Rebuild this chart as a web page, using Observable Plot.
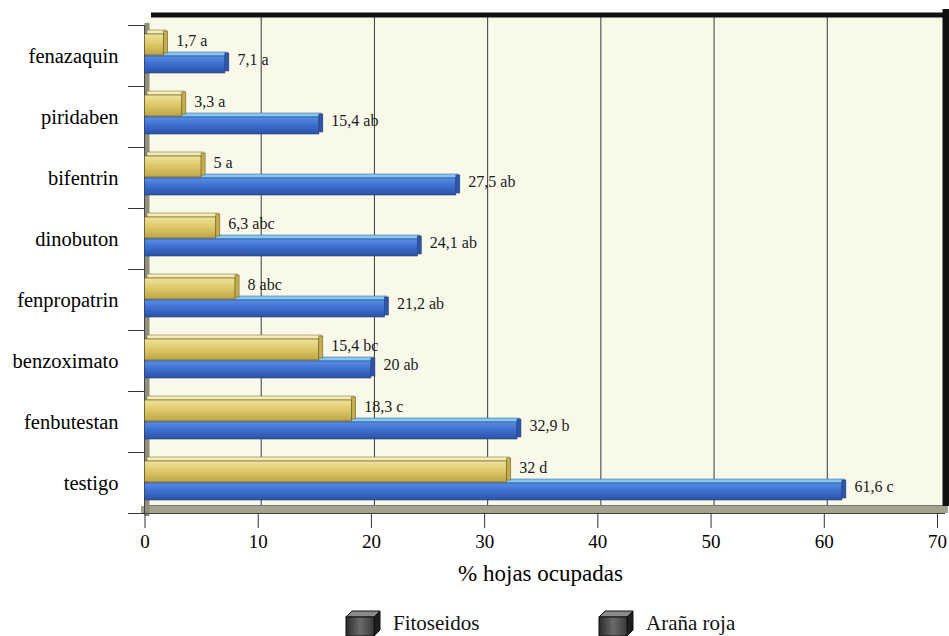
<!DOCTYPE html>
<html>
<head>
<meta charset="utf-8">
<script src="https://cdn.jsdelivr.net/npm/d3@7"></script>
<script src="https://cdn.jsdelivr.net/npm/@observablehq/plot@0.6"></script>
<style>
  html, body { margin: 0; padding: 0; background: #ffffff; }
  body { width: 949px; height: 636px; overflow: hidden; font-family: "Liberation Serif", "Times New Roman", serif; }
  #legend { position: relative; width: 949px; height: 36px; }
  .item { position: absolute; top: 10px; display: flex; align-items: center; font-size: 21px; color: #111; }
  .item svg { margin-right: 12px; }
</style>
</head>
<body>
<div id="chart"></div>
<div id="legend"></div>
<script>
const categories = ["fenazaquin", "piridaben", "bifentrin", "dinobuton", "fenpropatrin", "benzoximato", "fenbutestan", "testigo"];
const fitoseidos = [1.7, 3.3, 5, 6.3, 8, 15.4, 18.3, 32];
const aranaRoja = [7.1, 15.4, 27.5, 24.1, 21.2, 20, 32.9, 61.6];
const fitoLetters = ["a", "a", "a", "abc", "abc", "bc", "c", "d"];
const aranaLetters = ["a", "ab", "ab", "ab", "ab", "ab", "b", "c"];
const xTicks = [0, 10, 20, 30, 40, 50, 60, 70];
const gridTicks = [10, 20, 30, 40, 50, 60];
const seriesNames = ["Fitoseidos", "Araña roja"];

const fmt = v => String(v).replace(".", ",");
const fito = categories.map((c, i) => ({cat: c, v: fitoseidos[i], label: fmt(fitoseidos[i]) + " " + fitoLetters[i]}));
const arana = categories.map((c, i) => ({cat: c, v: aranaRoja[i], label: fmt(aranaRoja[i]) + " " + aranaLetters[i]}));

const serif = '"Liberation Serif", "Times New Roman", serif';

const chart = Plot.plot({
  width: 949,
  height: 600,
  marginLeft: 144,
  marginRight: 5,
  marginTop: 17,
  marginBottom: 87,
  style: {fontFamily: serif, background: "transparent", color: "#111"},
  x: {domain: [0, 70], range: [144.5, 937]},
  y: {domain: categories, range: [24.5, 512.5], padding: 0},
  marks: [
    Plot.frame({fill: "#f9f9ea", stroke: null}),
    // back grid
    Plot.ruleX(gridTicks, {dx: 3, stroke: "#3a3a3a", strokeWidth: 1, insetBottom: 8}),
    // floor & wall
    Plot.frame({anchor: "bottom", stroke: "#a3a38e", strokeWidth: 7, dy: -4}),
    Plot.frame({anchor: "bottom", stroke: "#555", strokeWidth: 0.8, dy: -8}),
    Plot.frame({anchor: "left", stroke: "#8f8f7b", strokeWidth: 5, dx: 2.5, insetTop: 8}),
    Plot.frame({anchor: "left", stroke: "#444", strokeWidth: 1, insetTop: 8}),
    Plot.frame({anchor: "bottom", stroke: "#444", strokeWidth: 1.2}),
    // black box edges
    Plot.frame({anchor: "top", stroke: "#111", strokeWidth: 5, dy: -2.5, dx: 9}),
    Plot.frame({anchor: "right", stroke: "#111", strokeWidth: 7, dx: 1.5, dy: -5, insetBottom: 6}),
    // left band ticks
    Plot.ruleY(categories, {y: d => d, dy: -30.5, x1: -1.45, x2: 0, stroke: "#333", strokeWidth: 1}),
    Plot.ruleY(categories.slice(-1), {y: d => d, dy: 30.5, x1: -1.45, x2: 0, stroke: "#333", strokeWidth: 1}),
    // Araña roja (blue)
    Plot.barX(arana, {y: "cat", x: "v", insetTop: 27, insetBottom: 30, dx: 2.5, fill: "#86c8f4", stroke: "#2d4f8c", strokeWidth: 0.5}),
    Plot.barX(arana, {y: "cat", x: "v", insetTop: 31, insetBottom: 13, fill: "url(#gBlue)", stroke: "#24407a", strokeWidth: 0.6}),
    Plot.barX(arana, {y: "cat", x1: "v", x2: "v", insetRight: -4, insetTop: 28, insetBottom: 15, fill: "#2f56a8", stroke: "#1f3b75", strokeWidth: 0.5}),
    // Fitoseidos (yellow)
    Plot.barX(fito, {y: "cat", x: "v", insetTop: 5, insetBottom: 52, dx: 2.5, fill: "#f4ecb4", stroke: "#6e6230", strokeWidth: 0.5}),
    Plot.barX(fito, {y: "cat", x: "v", insetTop: 9, insetBottom: 31, fill: "url(#gYellow)", stroke: "#5e5326", strokeWidth: 0.6}),
    Plot.barX(fito, {y: "cat", x1: "v", x2: "v", insetRight: -4, insetTop: 6, insetBottom: 33, fill: "#c7ae4c", stroke: "#5e5326", strokeWidth: 0.5}),
    // value labels
    Plot.text(fito, {y: "cat", x: "v", text: "label", dx: 12, dy: -15, textAnchor: "start", fontSize: 16, fill: "#1a1a1a"}),
    Plot.text(arana, {y: "cat", x: "v", text: "label", dx: 12, dy: 4, textAnchor: "start", fontSize: 16, fill: "#1a1a1a"}),
    // axes
    Plot.axisY({tickSize: 0, tickPadding: 26, fontSize: 20.5, label: null, fill: "#000"}),
    Plot.axisX({ticks: xTicks, tickSize: 15, tickPadding: 6, fontSize: 19, label: null, stroke: "#333", fill: "#000"}),
    Plot.text(["% hojas ocupadas"], {frameAnchor: "bottom", dy: 67, dx: -4, fontSize: 23, fill: "#000"})
  ]
});

d3.select(chart).insert("defs", ":first-child").html(`
  <linearGradient id="gBlue" x1="0" y1="0" x2="0" y2="1">
    <stop offset="0" stop-color="#5a8fe2"/>
    <stop offset="0.45" stop-color="#3e6fd0"/>
    <stop offset="1" stop-color="#2b52a6"/>
  </linearGradient>
  <linearGradient id="gYellow" x1="0" y1="0" x2="0" y2="1">
    <stop offset="0" stop-color="#efe39a"/>
    <stop offset="0.5" stop-color="#dcc766"/>
    <stop offset="1" stop-color="#bfa445"/>
  </linearGradient>
`);
document.getElementById("chart").appendChild(chart);

// legend
const cube = `<svg width="36" height="27" viewBox="0 0 36 27">
  <defs><linearGradient id="gCube" x1="0" y1="0" x2="1" y2="0">
    <stop offset="0" stop-color="#2a2a2a"/><stop offset="0.5" stop-color="#6a6a6a"/><stop offset="1" stop-color="#3a3a3a"/>
  </linearGradient></defs>
  <polygon points="1,7 7,1 35,1 29,7" fill="#8a8a8a" stroke="#111" stroke-width="1"/>
  <polygon points="29,7 35,1 35,20 29,26" fill="#1e1e1e" stroke="#111" stroke-width="1"/>
  <rect x="1" y="7" width="28" height="19" fill="url(#gCube)" stroke="#111" stroke-width="1"/>
</svg>`;
const lefts = [345, 598];
const legend = d3.select("#legend");
seriesNames.forEach((name, i) => {
  legend.append("div").attr("class", "item").style("left", lefts[i] + "px").html(cube + `<span>${name}</span>`);
});
</script>
</body>
</html>
